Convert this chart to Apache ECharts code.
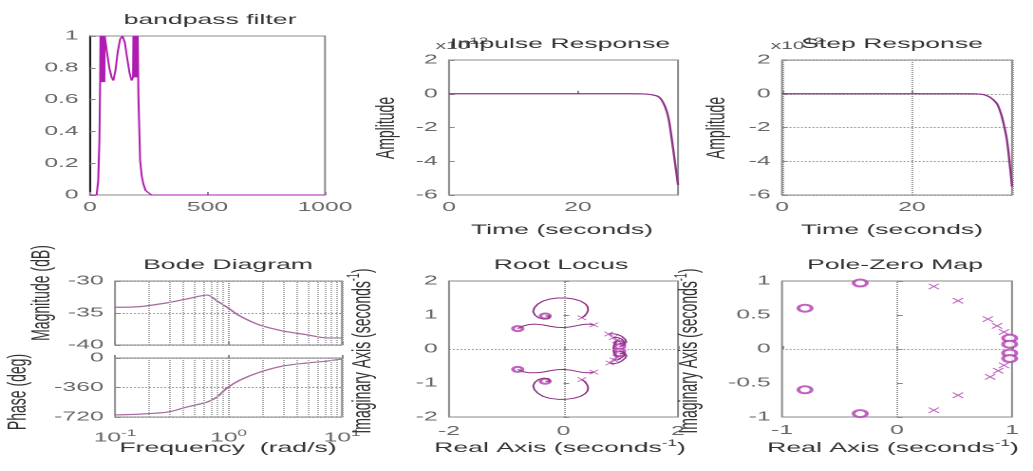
<!DOCTYPE html>
<html>
<head>
<meta charset="utf-8">
<script src="https://cdn.jsdelivr.net/npm/echarts@6/dist/echarts.min.js"></script>
<style>
  html, body { margin: 0; padding: 0; background: #fff; overflow: hidden; }
  /* the figure is a horizontally stretched MATLAB plot */
  #chart { width: 544px; height: 471px; transform: scaleX(1.8989); transform-origin: 0 0; }
</style>
</head>
<body>
<div id="chart"></div>
<script>
// bandpass filter magnitude
const bpFreq = [0, 28, 35, 40, 43, 44.5, 46, 47.5, 49, 50.5, 52, 53.5, 55, 56.5, 58, 59.5, 61, 62.5, 64, 72,
  82, 92, 99, 108, 118, 128, 138, 148, 158, 168, 177, 183, 184.5, 186, 187.5, 189, 190.5, 192, 193.5, 195,
  196.5, 198, 199.5, 201, 203, 206, 213, 220, 227, 236, 248, 262, 1000];
const bpMag = [0, 0, 0.09, 0.35, 0.72, 1, 0.71, 1, 0.71, 1, 0.71, 1, 0.71, 1, 0.71, 1, 0.71, 1, 1, 0.9,
  0.8, 0.74, 0.72, 0.78, 0.9, 0.98, 1, 0.96, 0.86, 0.77, 0.72, 0.74, 1, 0.74, 1, 0.74, 1, 0.74, 1, 0.74,
  1, 0.74, 1, 0.74, 1, 0.62, 0.22, 0.12, 0.07, 0.03, 0.015, 0, 0];

// impulse / step responses (x 10^12)
const impT = [0, 5, 10, 15, 20, 25, 28, 30, 31.5, 32.5, 33.3, 34, 34.5, 35, 35.5];
const impA = [0, 0, 0, 0, 0, 0, 0, -0.01, -0.06, -0.18, -0.6, -1.4, -2.6, -4.0, -5.4];
const stepT = [0, 10, 20, 28, 30, 31, 32, 33, 33.5, 34, 34.6, 35, 35.4];
const stepA = [0, 0, 0, 0, -0.01, -0.05, -0.2, -0.55, -0.95, -1.6, -2.7, -4.0, -5.5];

// bode
const bodeW = [0.1, 0.166, 0.29, 0.43, 0.65, 0.79, 0.97, 1.27, 1.9, 3.0, 4.9, 7.4, 10];
const bodeMag = [-34.1, -34.0, -33.4, -32.8, -32.2, -33.1, -34.1, -35.5, -36.9, -37.8, -38.4, -38.9, -38.9];
const bodePhase = [-695, -685, -660, -598, -537, -476, -366, -268, -171, -98, -61, -37, -12];
const bodeMinor = [0.2, 0.3, 0.4, 0.5, 0.6, 0.7, 0.8, 0.9, 2, 3, 4, 5, 6, 7, 8, 9];

// poles and zeros
const pzZeros = [[-0.8, 0.6], [-0.8, -0.6], [-0.32, 0.97], [-0.32, -0.95],
  [0.98, 0.16], [0.98, 0.07], [0.98, -0.06], [0.98, -0.14]];
const pzPoles = [[0.32, 0.92], [0.53, 0.71], [0.79, 0.44], [0.87, 0.34], [0.93, 0.25],
  [0.32, -0.9], [0.53, -0.68], [0.81, -0.41], [0.88, -0.32], [0.93, -0.24]];

// root locus branches
const rlUp1 = [[0.32, 0.92], [0.37, 0.98], [0.41, 1.06], [0.43, 1.15], [0.42, 1.25], [0.38, 1.33], [0.3, 1.41],
  [0.18, 1.47], [0.04, 1.5], [-0.1, 1.5], [-0.24, 1.47], [-0.36, 1.41], [-0.45, 1.32], [-0.51, 1.21], [-0.53, 1.1],
  [-0.5, 1.0], [-0.44, 0.92], [-0.35, 0.88], [-0.26, 0.89], [-0.21, 0.93], [-0.24, 0.97], [-0.32, 0.97]];
const rlUp2 = [[0.53, 0.71], [0.44, 0.73], [0.34, 0.72], [0.24, 0.69], [0.12, 0.65], [0, 0.63], [-0.12, 0.64],
  [-0.24, 0.67], [-0.36, 0.71], [-0.48, 0.73], [-0.6, 0.72], [-0.7, 0.68], [-0.8, 0.6]];
const rlLo1 = [[0.32, -0.9], [0.37, -0.96], [0.41, -1.04], [0.43, -1.13], [0.42, -1.23], [0.38, -1.31], [0.3, -1.39],
  [0.18, -1.45], [0.04, -1.48], [-0.1, -1.48], [-0.24, -1.45], [-0.36, -1.39], [-0.45, -1.3], [-0.51, -1.19], [-0.53, -1.08],
  [-0.5, -0.98], [-0.44, -0.9], [-0.35, -0.86], [-0.26, -0.87], [-0.21, -0.91], [-0.24, -0.95], [-0.32, -0.95]];
const rlLo2 = [[0.53, -0.68], [0.44, -0.7], [0.34, -0.69], [0.24, -0.66], [0.12, -0.62], [0, -0.6], [-0.12, -0.61],
  [-0.24, -0.64], [-0.36, -0.68], [-0.48, -0.7], [-0.6, -0.7], [-0.7, -0.67], [-0.8, -0.6]];
const rlC1 = [[0.79, 0.44], [0.86, 0.45], [0.94, 0.43], [1.02, 0.37], [1.08, 0.28], [1.1, 0.2], [1.06, 0.15], [0.98, 0.16]];
const rlC2 = [[0.87, 0.34], [0.94, 0.34], [1.01, 0.3], [1.06, 0.22], [1.07, 0.13], [1.04, 0.08], [0.98, 0.07]];
const rlC3 = [[0.93, 0.25], [0.9, 0.18], [0.88, 0.1], [0.87, 0], [0.88, -0.1], [0.9, -0.17], [0.93, -0.24]];
const rlC4 = [[0.81, -0.41], [0.88, -0.43], [0.95, -0.41], [1.02, -0.35], [1.08, -0.26], [1.1, -0.19], [1.06, -0.13], [0.98, -0.14]];
const rlC5 = [[0.88, -0.32], [0.95, -0.32], [1.01, -0.28], [1.06, -0.2], [1.07, -0.12], [1.04, -0.07], [0.98, -0.06]];
const rlBranches = [rlUp1, rlUp2, rlLo1, rlLo2, rlC1, rlC2, rlC3, rlC4, rlC5];

const S = 1033 / 544;
const font = "'Liberation Sans', Arial, sans-serif";
const frame = '#8a8a8a';
const zip = (xs, ys) => xs.map((x, i) => [x, ys[i]]);
const cross = 'path://M0,1L1,0L5,4L9,0L10,1L6,5L10,9L9,10L5,6L1,10L0,9L4,5Z';

function box(x0, x1, y0, y1) {
  return { left: x0 / S, width: (x1 - x0) / S, top: y0, height: y1 - y0, show: true,
    borderColor: frame, borderWidth: 1, outerBoundsMode: 'none' };
}

function tickLabels(margin, extra) {
  return Object.assign({ color: '#666', fontSize: 13, fontFamily: font, margin, formatter: (v) => String(v) }, extra || {});
}

function axis(gridIndex, min, max, interval, extra) {
  return Object.assign({
    gridIndex, type: 'value', min, max, interval,
    axisLine: { show: false },
    axisTick: { show: true, inside: true, length: 3, lineStyle: { color: frame } },
    axisLabel: tickLabels(6),
    splitLine: { show: false },
  }, extra || {});
}

const dotted = { show: true, lineStyle: { type: 'dotted', color: '#999', width: 1 } };
const supRich = { sup: { fontSize: 9, fontFamily: font, color: '#666', verticalAlign: 'top', lineHeight: 10 } };

const zeroLines = {
  silent: true, symbol: 'none', label: { show: false },
  lineStyle: { type: 'dotted', color: '#999', width: 1 },
  data: [{ xAxis: 0 }, { yAxis: 0 }],
};

const bodeGrid = {
  silent: true, symbol: 'none', label: { show: false },
  lineStyle: { type: 'dotted', color: '#aaa', width: 1 },
  data: bodeMinor.map((f) => ({ xAxis: f })),
};

function logAxis(gridIndex, labels) {
  return {
    gridIndex, type: 'log', logBase: 10, min: 0.1, max: 10,
    axisLine: { show: false },
    axisTick: { show: true, inside: true, length: 3, lineStyle: { color: frame } },
    axisLabel: labels ? {
      color: '#666', fontSize: 13, fontFamily: font, margin: 12, lineHeight: 18,
      formatter: (v) => '10{sup|' + Math.round(Math.log10(v)) + '}', rich: supRich,
    } : { show: false },
    splitLine: dotted,
  };
}

function text(str, x, y, rot, size, color) {
  return {
    type: 'text', x: x / S, y, rotation: rot || 0, z: 100,
    style: {
      text: str, x: 0, y: 0, textAlign: 'center', textVerticalAlign: 'middle',
      fill: color || '#333', fontSize: size || 14, fontFamily: font, lineHeight: 18,
      rich: { sup: { fontSize: 9, fontFamily: font, fill: color || '#333', verticalAlign: 'top', lineHeight: 10 } },
    },
  };
}

const lineC = '#8e3486';
const markC = '#b03cb0';

const series = [
  { type: 'line', xAxisIndex: 0, yAxisIndex: 0, data: zip(bpFreq, bpMag), showSymbol: false,
    lineStyle: { color: '#b01cb0', width: 1 } },
  { type: 'line', xAxisIndex: 1, yAxisIndex: 1, data: zip(impT, impA), showSymbol: false, smooth: 0.3,
    lineStyle: { color: lineC, width: 1.2 } },
  { type: 'line', xAxisIndex: 2, yAxisIndex: 2, data: zip(stepT, stepA), showSymbol: false, smooth: 0.3,
    lineStyle: { color: lineC, width: 1.2 } },
  { type: 'line', xAxisIndex: 3, yAxisIndex: 3, data: zip(bodeW, bodeMag), showSymbol: false, smooth: 0.3,
    lineStyle: { color: '#a86aa0', width: 1.2 }, markLine: bodeGrid },
  { type: 'line', xAxisIndex: 4, yAxisIndex: 4, data: zip(bodeW, bodePhase), showSymbol: false, smooth: 0.3,
    lineStyle: { color: '#a86aa0', width: 1.2 }, markLine: bodeGrid },
];

rlBranches.forEach((b) => {
  series.push({ type: 'line', xAxisIndex: 5, yAxisIndex: 5, data: b, showSymbol: false,
    lineStyle: { color: lineC, width: 1 } });
});
series.push(
  { type: 'scatter', xAxisIndex: 5, yAxisIndex: 5, data: pzZeros, symbol: 'emptyCircle', symbolSize: 5,
    itemStyle: { color: markC, borderWidth: 1 }, markLine: zeroLines },
  { type: 'scatter', xAxisIndex: 5, yAxisIndex: 5, data: pzPoles, symbol: cross, symbolSize: 5,
    itemStyle: { color: markC } },
  { type: 'scatter', xAxisIndex: 6, yAxisIndex: 6, data: pzZeros, symbol: 'emptyCircle', symbolSize: 7,
    itemStyle: { color: markC, borderWidth: 1.2 }, markLine: zeroLines },
  { type: 'scatter', xAxisIndex: 6, yAxisIndex: 6, data: pzPoles, symbol: cross, symbolSize: 6,
    itemStyle: { color: markC } }
);

const chart = echarts.init(document.getElementById('chart'), null, { renderer: 'canvas', devicePixelRatio: 2 });
chart.setOption({
  animation: false,
  backgroundColor: '#fff',
  grid: [
    box(90, 325, 36, 195),
    box(449, 678, 60, 195),
    box(782, 1012, 60, 195),
    box(115, 342, 281, 345),
    box(115, 342, 358, 417),
    box(449, 678, 281, 417),
    box(782, 1012, 281, 417),
  ],
  xAxis: [
    axis(0, 0, 1000, 500),
    axis(1, 0, 35.5, 20, { axisLabel: tickLabels(6, { showMaxLabel: false }) }),
    axis(2, 0, 35.4, 20, { axisLabel: tickLabels(6, { showMaxLabel: false }), splitLine: dotted }),
    logAxis(3, false),
    logAxis(4, true),
    axis(5, -2, 2, 2, { axisLabel: tickLabels(8) }),
    axis(6, -1, 1, 1, { axisLabel: tickLabels(7) }),
  ],
  yAxis: [
    axis(0, 0, 1, 0.2, { axisLine: { show: true, lineStyle: { color: '#222', width: 1 } } }),
    axis(1, -6, 2, 2),
    axis(2, -6, 2, 2, { splitLine: dotted }),
    axis(3, -40, -30, 5, { splitLine: dotted }),
    axis(4, -720, 0, 360, { splitLine: dotted }),
    axis(5, -2, 2, 1),
    axis(6, -1, 1, 0.5),
  ],
  series,
  graphic: [
    text('x10{sup|12}', 462, 46, 0, 11, '#555'),
    text('x10{sup|12}', 797, 46, 0, 11, '#555'),
    text('bandpass filter', 210, 20),
    text('Impulse Response', 560, 44),
    text('Step Response', 892, 44),
    text('Bode Diagram', 228, 265),
    text('Root Locus', 561, 265),
    text('Pole-Zero Map', 895, 265),
    text('Time (seconds)', 562, 230),
    text('Time (seconds)', 892, 230),
    text('Frequency  (rad/s)', 228, 448),
    text('Real Axis (seconds{sup|-1})', 560, 448),
    text('Real Axis (seconds{sup|-1})', 893, 448),
    text('Amplitude', 387, 128, Math.PI / 2),
    text('Amplitude', 717, 128, Math.PI / 2),
    text('Magnitude (dB)', 42, 293, Math.PI / 2),
    text('Phase (deg)', 18, 392, Math.PI / 2),
    text('Imaginary Axis (seconds{sup|-1})', 363, 351, Math.PI / 2),
    text('Imaginary Axis (seconds{sup|-1})', 690, 351, Math.PI / 2),
  ],
});
</script>
</body>
</html>
